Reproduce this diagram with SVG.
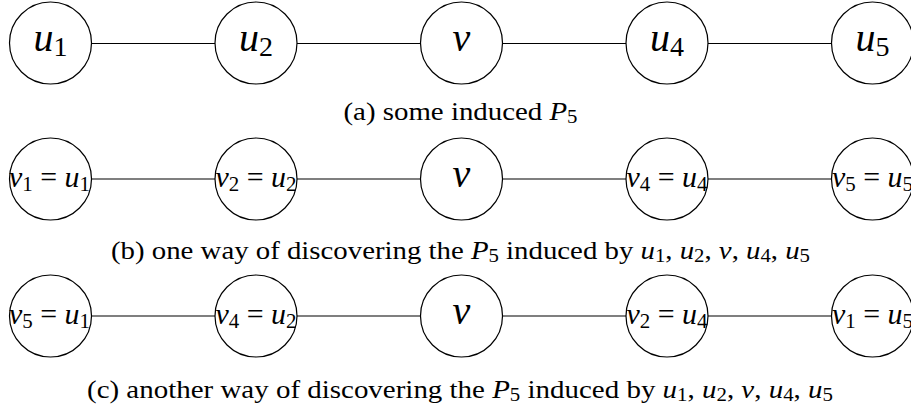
<svg xmlns="http://www.w3.org/2000/svg" width="911" height="408" viewBox="0 0 911 408">
<style>
.node circle{fill:none;stroke:#000;stroke-width:1.2}
.edges line{stroke:#000;stroke-width:1.1}
</style>
<rect width="911" height="408" fill="#fff"/>
<g class="edges" id="connectors">
<line x1="91.5" y1="43.5" x2="215" y2="43.5"/>
<line x1="297" y1="43.5" x2="420.5" y2="43.5"/>
<line x1="502.5" y1="43.5" x2="626" y2="43.5"/>
<line x1="708" y1="43.5" x2="831.5" y2="43.5"/>
<line x1="91.5" y1="179" x2="215" y2="179"/>
<line x1="297" y1="179" x2="420.5" y2="179"/>
<line x1="502.5" y1="179" x2="626" y2="179"/>
<line x1="708" y1="179" x2="831.5" y2="179"/>
<line x1="91.5" y1="316" x2="215" y2="316"/>
<line x1="297" y1="316" x2="420.5" y2="316"/>
<line x1="502.5" y1="316" x2="626" y2="316"/>
<line x1="708" y1="316" x2="831.5" y2="316"/>
</g>
<!-- row a -->
<g class="node" id="a-u1"><circle cx="50.5" cy="43" r="41"/><text font-family="Liberation Serif" font-size="40" x="50.5" y="51" text-anchor="middle"><tspan font-style="italic">u</tspan><tspan font-size="28" dy="5">1</tspan></text></g>
<g class="node" id="a-u2"><circle cx="256" cy="43" r="41"/><text font-family="Liberation Serif" font-size="40" x="256" y="51" text-anchor="middle"><tspan font-style="italic">u</tspan><tspan font-size="28" dy="5">2</tspan></text></g>
<g class="node" id="a-v"><circle cx="461.5" cy="43" r="41"/><text font-family="Liberation Serif" font-size="40" font-style="italic" x="461.5" y="51" text-anchor="middle">v</text></g>
<g class="node" id="a-u4"><circle cx="667" cy="43" r="41"/><text font-family="Liberation Serif" font-size="40" x="667" y="51" text-anchor="middle"><tspan font-style="italic">u</tspan><tspan font-size="28" dy="5">4</tspan></text></g>
<g class="node" id="a-u5"><circle cx="872.5" cy="43" r="41"/><text font-family="Liberation Serif" font-size="40" x="872.5" y="51" text-anchor="middle"><tspan font-style="italic">u</tspan><tspan font-size="28" dy="5">5</tspan></text></g>
<text font-family="Liberation Serif" font-size="25" x="460.5" y="120" text-anchor="middle" textLength="234" lengthAdjust="spacingAndGlyphs">(a) some induced <tspan font-style="italic">P</tspan><tspan font-size="18" dy="3">5</tspan></text>
<!-- row b -->
<g class="node" id="b-u1"><circle cx="50.5" cy="179" r="41"/><text font-family="Liberation Serif" font-size="30" x="49.5" y="187" text-anchor="middle" textLength="81" lengthAdjust="spacingAndGlyphs"><tspan font-style="italic">v</tspan><tspan font-size="21" dy="4">1</tspan><tspan dy="-4"> = </tspan><tspan font-style="italic">u</tspan><tspan font-size="21" dy="4">1</tspan></text></g>
<g class="node" id="b-u2"><circle cx="256" cy="179" r="41"/><text font-family="Liberation Serif" font-size="30" x="256" y="187" text-anchor="middle" textLength="81" lengthAdjust="spacingAndGlyphs"><tspan font-style="italic">v</tspan><tspan font-size="21" dy="4">2</tspan><tspan dy="-4"> = </tspan><tspan font-style="italic">u</tspan><tspan font-size="21" dy="4">2</tspan></text></g>
<g class="node" id="b-v"><circle cx="461.5" cy="179" r="41"/><text font-family="Liberation Serif" font-size="40" font-style="italic" x="461.5" y="187" text-anchor="middle">v</text></g>
<g class="node" id="b-u4"><circle cx="667" cy="179" r="41"/><text font-family="Liberation Serif" font-size="30" x="667" y="187" text-anchor="middle" textLength="81" lengthAdjust="spacingAndGlyphs"><tspan font-style="italic">v</tspan><tspan font-size="21" dy="4">4</tspan><tspan dy="-4"> = </tspan><tspan font-style="italic">u</tspan><tspan font-size="21" dy="4">4</tspan></text></g>
<g class="node" id="b-u5"><circle cx="872.5" cy="179" r="41"/><text font-family="Liberation Serif" font-size="30" x="872.5" y="187" text-anchor="middle" textLength="81" lengthAdjust="spacingAndGlyphs"><tspan font-style="italic">v</tspan><tspan font-size="21" dy="4">5</tspan><tspan dy="-4"> = </tspan><tspan font-style="italic">u</tspan><tspan font-size="21" dy="4">5</tspan></text></g>
<text font-family="Liberation Serif" font-size="25" x="460.5" y="259" text-anchor="middle" textLength="699" lengthAdjust="spacingAndGlyphs">(b) one way of discovering the <tspan font-style="italic">P</tspan><tspan font-size="18" dy="3">5</tspan><tspan dy="-3"> induced by </tspan><tspan font-style="italic">u</tspan><tspan font-size="18" dy="3">1</tspan><tspan dy="-3">, </tspan><tspan font-style="italic">u</tspan><tspan font-size="18" dy="3">2</tspan><tspan dy="-3">, </tspan><tspan font-style="italic">v</tspan><tspan>, </tspan><tspan font-style="italic">u</tspan><tspan font-size="18" dy="3">4</tspan><tspan dy="-3">, </tspan><tspan font-style="italic">u</tspan><tspan font-size="18" dy="3">5</tspan></text>
<!-- row c -->
<g class="node" id="c-u1"><circle cx="50.5" cy="316" r="41"/><text font-family="Liberation Serif" font-size="30" x="49.5" y="324" text-anchor="middle" textLength="81" lengthAdjust="spacingAndGlyphs"><tspan font-style="italic">v</tspan><tspan font-size="21" dy="4">5</tspan><tspan dy="-4"> = </tspan><tspan font-style="italic">u</tspan><tspan font-size="21" dy="4">1</tspan></text></g>
<g class="node" id="c-u2"><circle cx="256" cy="316" r="41"/><text font-family="Liberation Serif" font-size="30" x="256" y="324" text-anchor="middle" textLength="81" lengthAdjust="spacingAndGlyphs"><tspan font-style="italic">v</tspan><tspan font-size="21" dy="4">4</tspan><tspan dy="-4"> = </tspan><tspan font-style="italic">u</tspan><tspan font-size="21" dy="4">2</tspan></text></g>
<g class="node" id="c-v"><circle cx="461.5" cy="316" r="41"/><text font-family="Liberation Serif" font-size="40" font-style="italic" x="461.5" y="324" text-anchor="middle">v</text></g>
<g class="node" id="c-u4"><circle cx="667" cy="316" r="41"/><text font-family="Liberation Serif" font-size="30" x="667" y="324" text-anchor="middle" textLength="81" lengthAdjust="spacingAndGlyphs"><tspan font-style="italic">v</tspan><tspan font-size="21" dy="4">2</tspan><tspan dy="-4"> = </tspan><tspan font-style="italic">u</tspan><tspan font-size="21" dy="4">4</tspan></text></g>
<g class="node" id="c-u5"><circle cx="872.5" cy="316" r="41"/><text font-family="Liberation Serif" font-size="30" x="872.5" y="324" text-anchor="middle" textLength="81" lengthAdjust="spacingAndGlyphs"><tspan font-style="italic">v</tspan><tspan font-size="21" dy="4">1</tspan><tspan dy="-4"> = </tspan><tspan font-style="italic">u</tspan><tspan font-size="21" dy="4">5</tspan></text></g>
<text font-family="Liberation Serif" font-size="25" x="460" y="398" text-anchor="middle" textLength="746" lengthAdjust="spacingAndGlyphs">(c) another way of discovering the <tspan font-style="italic">P</tspan><tspan font-size="18" dy="3">5</tspan><tspan dy="-3"> induced by </tspan><tspan font-style="italic">u</tspan><tspan font-size="18" dy="3">1</tspan><tspan dy="-3">, </tspan><tspan font-style="italic">u</tspan><tspan font-size="18" dy="3">2</tspan><tspan dy="-3">, </tspan><tspan font-style="italic">v</tspan><tspan>, </tspan><tspan font-style="italic">u</tspan><tspan font-size="18" dy="3">4</tspan><tspan dy="-3">, </tspan><tspan font-style="italic">u</tspan><tspan font-size="18" dy="3">5</tspan></text>
</svg>
